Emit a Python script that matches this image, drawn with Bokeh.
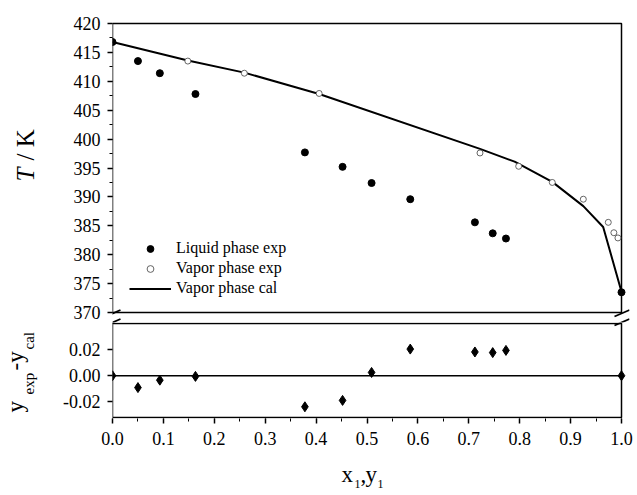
import math
from bokeh.plotting import figure
from bokeh.models import (Range1d, FixedTicker, Label, Legend, LegendItem,
                          PrintfTickFormatter)
from bokeh.layouts import column, row
from bokeh.embed import file_html
from bokeh.resources import INLINE

# ---------------- data ----------------
liq_x = [0.0, 0.050, 0.093, 0.163, 0.378, 0.452, 0.509, 0.585, 0.712, 0.747, 0.773, 1.0]
liq_T = [416.8, 413.5, 411.4, 407.8, 397.7, 395.2, 392.4, 389.6, 385.6, 383.7, 382.8, 373.5]

vap_y = [0.148, 0.259, 0.406, 0.722, 0.798, 0.864, 0.925, 0.974, 0.985, 0.993]
vap_T = [413.5, 411.4, 407.9, 397.6, 395.3, 392.5, 389.6, 385.6, 383.8, 382.9]

cal_y = [0.0, 0.148, 0.259, 0.370, 0.406, 0.722, 0.790, 0.864, 0.925, 0.964, 1.0]
cal_T = [416.8, 413.6, 411.5, 408.7, 407.8, 398.3, 396.1, 392.6, 388.4, 384.8, 373.6]

dev_x = [0.0, 0.050, 0.093, 0.163, 0.378, 0.452, 0.509, 0.585, 0.712, 0.747, 0.773, 1.0]
dev_v = [0.0, -0.0091, -0.0034, -0.0005, -0.0238, -0.0189, 0.0025, 0.0204, 0.0182, 0.0177, 0.0194, 0.0]

T_ticks = [370, 375, 380, 385, 390, 395, 400, 405, 410, 415, 420]
x_ticks = [i / 10 for i in range(11)]
dev_ticks = [-0.02, 0.0, 0.02]

X_LIM = (0.0, 1.0)
T_LIM = (370, 420)
D_LIM = (-0.032, 0.040)

FONT = "Liberation Serif"

# ---------------- page geometry (pixels) ----------------
PAGE_W, PAGE_H = 633, 491
STRIP_W = 44                       # strip with the rotated axis titles
BOX_L, BOX_R = 112, 621            # x = 0 and x = 1
T_BOX_T, T_BOX_B = 23, 312         # T = 420 and T = 370
D_BOX_T, D_BOX_B = 323, 417        # dev = 0.040 and dev = -0.032
FR_L, FR_R = BOX_L, 629            # frames (a little wider on the right for the break marks)
P1_FR_T, SPLIT = 20, 322           # top frame 20..322, bottom frame 322..418
P2_FR_B = 418
P2_BORDER_B = 40
BOT_TOP = P2_FR_B + P2_BORDER_B


def fx(px):
    return X_LIM[0] + (px - BOX_L) / (BOX_R - BOX_L) * (X_LIM[1] - X_LIM[0])


def ty(py):
    return T_LIM[1] - (py - T_BOX_T) / (T_BOX_B - T_BOX_T) * (T_LIM[1] - T_LIM[0])


def dy(py):
    return D_LIM[1] - (py - D_BOX_T) / (D_BOX_B - D_BOX_T) * (D_LIM[1] - D_LIM[0])


def style_axis(ax):
    ax.axis_line_color = None
    ax.major_tick_line_width = 1.5
    ax.minor_tick_line_width = 1
    ax.major_tick_out = 5
    ax.major_tick_in = 0
    ax.minor_tick_out = 3
    ax.minor_tick_in = 0
    ax.major_label_text_font = FONT
    ax.major_label_text_font_size = "18px"
    ax.major_label_text_color = "black"


def panel(y_lo, y_hi, fr_t, fr_b, border_t, border_b, x_axis):
    p = figure(frame_width=FR_R - FR_L, frame_height=fr_b - fr_t,
               x_range=Range1d(fx(FR_L), fx(FR_R)), y_range=Range1d(y_lo, y_hi),
               output_backend="svg", toolbar_location=None,
               x_axis_location="below" if x_axis else None,
               min_border_left=FR_L - STRIP_W, min_border_right=PAGE_W - FR_R,
               min_border_top=border_t, min_border_bottom=border_b)
    p.xgrid.visible = False
    p.ygrid.visible = False
    p.outline_line_color = None
    return p


def break_marks(p, conv):
    for (x0, y0, x1, y1) in [(105, 316, 120, 309.5), (105, 325, 120, 318.5),
                             (614, 316, 629, 309.5), (614, 325, 629, 318.5)]:
        p.segment(x0=fx(x0), y0=conv(y0), x1=fx(x1), y1=conv(y1), line_color="black", line_width=1.8)


# ---------------- top panel ----------------
p1 = panel(ty(SPLIT), ty(P1_FR_T), P1_FR_T, SPLIT, P1_FR_T, 0, False)
p1.yaxis.ticker = FixedTicker(ticks=T_ticks, minor_ticks=[T_LIM[0] + 2.5 * i for i in range(21)])
style_axis(p1.yaxis[0])
p1.yaxis.major_label_standoff = 7

p1.quad(left=X_LIM[0], right=X_LIM[1], bottom=T_LIM[0], top=T_LIM[1],
        fill_color=None, line_color="black", line_width=1.5)
r_cal = p1.line(cal_y, cal_T, line_color="black", line_width=2)
r_liq = p1.scatter(liq_x, liq_T, marker="circle", size=7, fill_color="black", line_color="black")
r_vap = p1.scatter(vap_y, vap_T, marker="circle", size=6, fill_color="white", line_color="#555555", line_width=0.9)
break_marks(p1, ty)

legend = Legend(items=[LegendItem(label="Liquid phase exp", renderers=[r_liq]),
                       LegendItem(label="Vapor phase exp", renderers=[r_vap]),
                       LegendItem(label="Vapor phase cal", renderers=[r_cal])],
                location=(129 - FR_L, SPLIT - 298), padding=0, margin=0, spacing=0,
                glyph_width=42, glyph_height=17, label_height=20, label_standoff=5,
                label_text_font=FONT, label_text_font_size="16px", label_text_color="black",
                border_line_color=None, background_fill_alpha=0)
p1.add_layout(legend)

# ---------------- bottom panel ----------------
p2 = panel(dy(P2_FR_B), dy(SPLIT), SPLIT, P2_FR_B, 0, P2_BORDER_B, True)
p2.xaxis.ticker = FixedTicker(ticks=x_ticks, minor_ticks=[i / 20 for i in range(21)])
p2.xaxis.formatter = PrintfTickFormatter(format="%.1f")
p2.yaxis.ticker = FixedTicker(ticks=dev_ticks, minor_ticks=[])
p2.yaxis.formatter = PrintfTickFormatter(format="%.2f")
style_axis(p2.xaxis[0])
style_axis(p2.yaxis[0])
p2.xaxis.major_label_standoff = 8
p2.yaxis.major_label_standoff = 7

p2.quad(left=X_LIM[0], right=X_LIM[1], bottom=D_LIM[0], top=D_LIM[1],
        fill_color=None, line_color="black", line_width=1.5)
p2.segment(x0=X_LIM[0], y0=0, x1=X_LIM[1], y1=0, line_color="black", line_width=1.5)
p2.scatter(dev_x, dev_v, marker="diamond", size=10, fill_color="black", line_color="black")
break_marks(p2, dy)


# ---------------- axis titles (figures whose data units are page pixels) ----------------
def pixel_fig(x0, x1, y0, y1, border_l=0, border_r=0):
    f = figure(frame_width=x1 - x0, frame_height=y1 - y0,
               x_range=Range1d(x0, x1), y_range=Range1d(y1, y0), output_backend="svg",
               toolbar_location=None, x_axis_location=None, y_axis_location=None,
               min_border_left=border_l, min_border_right=border_r,
               min_border_top=0, min_border_bottom=0)
    f.xgrid.visible = False
    f.ygrid.visible = False
    f.outline_line_color = None
    return f


left = pixel_fig(0, STRIP_W, 0, PAGE_H)


def rot(txt, px, py, size, style="normal"):
    left.add_layout(Label(x=px, y=py, text=txt, angle=math.pi / 2, text_align="left",
                          text_baseline="middle", text_font=FONT, text_font_size=size,
                          text_font_style=style, text_color="black"))


rot("T", 25, 181, "25px", "italic")
rot("/ K", 25, 160, "25px")
rot("y", 15, 412, "23px")
rot("exp", 28, 394, "15px")
rot("-y", 15, 370, "23px")
rot("cal", 28, 349, "15px")

bot = pixel_fig(FR_L, FR_R, BOT_TOP, PAGE_H, FR_L - STRIP_W, PAGE_W - FR_R)


def hl(txt, px, py, size):
    bot.add_layout(Label(x=px, y=py, text=txt, text_align="left", text_baseline="middle",
                         text_font=FONT, text_font_size=size, text_color="black"))


hl("x", 341, 474, "23px")
hl("1", 354, 483, "12px")
hl(",", 360, 474, "23px")
hl("y", 365, 474, "23px")
hl("1", 377, 483, "12px")

layout = row(left, column(p1, p2, bot))
open("out.html", "w").write(file_html(layout, INLINE))
